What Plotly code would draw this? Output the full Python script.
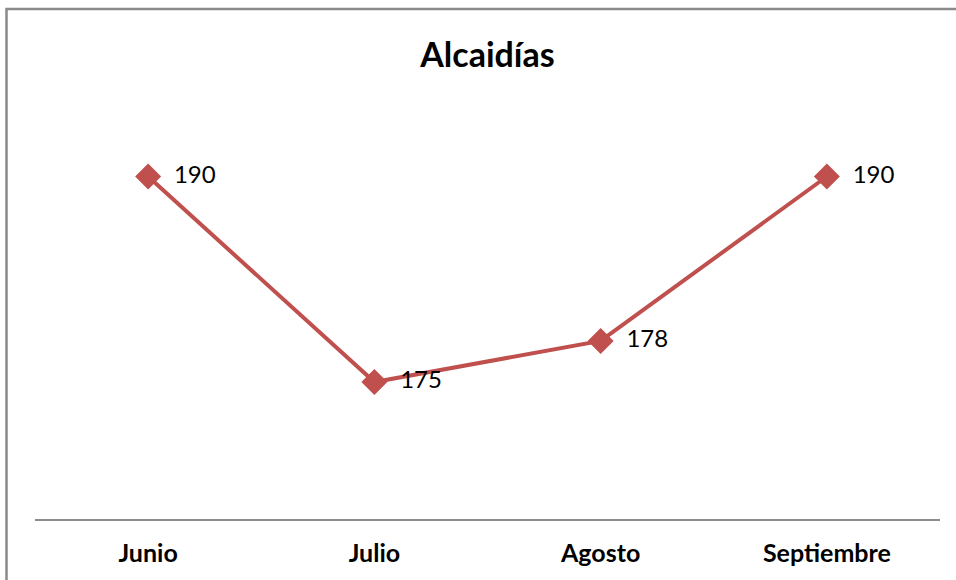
import plotly.graph_objects as go

months = ["Junio", "Julio", "Agosto", "Septiembre"]
values = [190, 175, 178, 190]
title_text = "Alcaidías"

W, H = 956, 580
L, R, T, B = 35, 16, 108, 61
pw, ph = W - L - R, H - T - B

def px(x):
    return (x - L) / pw

def py(y):
    return (H - B - y) / ph

FONT = "Lato, Open Sans, sans-serif"

fig = go.Figure()
fig.add_trace(go.Scatter(
    x=months, y=values,
    mode="lines+markers+text",
    line=dict(color="#C0504D", width=4),
    marker=dict(symbol="diamond", size=20, color="#C0504D"),
    text=[f"  {v}" for v in values],
    textposition="middle right",
    textfont=dict(family=FONT, size=24, color="#000000"),
    cliponaxis=False,
    hoverinfo="skip",
))

fig.update_layout(
    width=W, height=H,
    margin=dict(l=L, r=R, t=T, b=B, autoexpand=False),
    paper_bgcolor="white", plot_bgcolor="white",
    showlegend=False,
    title=dict(text=f"<b>{title_text}</b>", x=0.5, xref="paper", y=1 - 55 / H, yanchor="middle",
               font=dict(family=FONT, size=34, color="#000000")),
    xaxis=dict(
        type="category", range=[-0.5, 3.5],
        automargin=False,
        showgrid=False, zeroline=False,
        showline=True, linecolor="#8C8C8C", linewidth=1.5,
        ticks="", ticklabelstandoff=11,
        tickfont=dict(family=FONT, size=25, color="#000000"),
        tickprefix="<b>", ticksuffix="</b>",
        fixedrange=True,
    ),
    yaxis=dict(
        range=[165, 195], visible=False, fixedrange=True, automargin=False,
    ),
    shapes=[dict(
        type="path", xref="paper", yref="paper",
        path=f"M {px(6.5)} {py(585)} L {px(6.5)} {py(9)} L {px(962)} {py(9)}",
        line=dict(color="#8A8A8A", width=2.5),
    )],
)

fig.write_html(
    "out.html",
    config={"displayModeBar": False},
    post_script="document.body.style.margin='0';document.body.style.overflow='hidden';",
)
